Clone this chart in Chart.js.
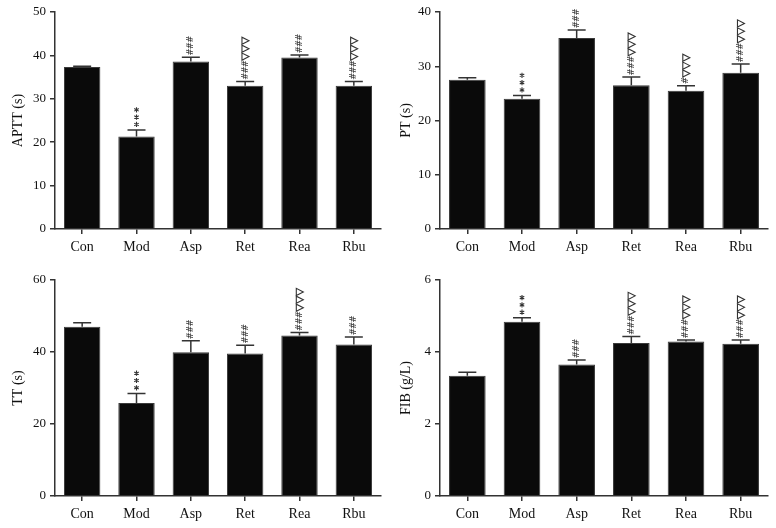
<!DOCTYPE html>
<html>
<head>
<meta charset="utf-8">
<script src="https://cdn.jsdelivr.net/npm/chart.js@4.4.0/dist/chart.umd.min.js"></script>
<style>
  body { margin: 0; background: #fff; }
  #wrap { position: relative; width: 776px; height: 528px; }
  .panel { position: absolute; width: 388px; height: 264px; }
</style>
</head>
<body>
<div id="wrap">
  <div class="panel" style="left:0;top:0"><canvas id="aptt" width="388" height="264"></canvas></div>
  <div class="panel" style="left:388px;top:0"><canvas id="pt" width="388" height="264"></canvas></div>
  <div class="panel" style="left:0;top:264px"><canvas id="tt" width="388" height="264"></canvas></div>
  <div class="panel" style="left:388px;top:264px"><canvas id="fib" width="388" height="264"></canvas></div>
</div>
<script>
const groups = ["Con", "Mod", "Asp", "Ret", "Rea", "Rbu"];

const apttMean = [37.3, 21.3, 38.6, 33.0, 39.5, 33.0];
const apttSem = [0.2, 1.5, 1.0, 1.0, 0.6, 1.0];
const apttMarks = ["", "***", "###", "###▷▷▷", "###", "###▷▷▷"];

const ptMean = [27.5, 24.0, 35.2, 26.5, 25.5, 28.8];
const ptSem = [0.4, 0.6, 1.5, 1.5, 0.9, 1.6];
const ptMarks = ["", "***", "###", "###▷▷▷", "#▷▷▷", "###▷▷▷"];

const ttMean = [47.0, 25.8, 39.9, 39.6, 44.6, 42.1];
const ttSem = [1.1, 2.7, 3.2, 2.3, 0.8, 2.1];
const ttMarks = ["", "***", "###", "###", "###▷▷▷", "###"];

const fibMean = [3.34, 4.84, 3.65, 4.25, 4.29, 4.23];
const fibSem = [0.10, 0.11, 0.13, 0.18, 0.04, 0.10];
const fibMarks = ["", "***", "###", "###▷▷▷", "###▷▷▷", "###▷▷▷"];

const serif = '"Liberation Serif", "Times New Roman", serif';
const ink = "#333";

// small star drawn as six spokes
function drawStar(ctx, x, y) {
    ctx.beginPath();
    for (let k = 0; k < 3; k++) {
        const a = Math.PI / 2 + k * Math.PI / 3;
        ctx.moveTo(x + Math.cos(a) * 2.6, y + Math.sin(a) * 2.6);
        ctx.lineTo(x - Math.cos(a) * 2.6, y - Math.sin(a) * 2.6);
    }
    ctx.stroke();
}

// error bars + significance marks stacked above each bar
const extrasPlugin = {
    id: "extras",
    afterDatasetsDraw(chart, args, opts) {
        const ctx = chart.ctx;
        const meta = chart.getDatasetMeta(0);
        const yScale = chart.scales.y;
        const values = chart.data.datasets[0].data;
        ctx.save();
        meta.data.forEach((bar, i) => {
            const x = bar.x;
            const top = yScale.getPixelForValue(values[i] + opts.sem[i]);
            ctx.strokeStyle = ink;
            ctx.lineWidth = 1.5;
            ctx.beginPath();
            ctx.moveTo(x, bar.y);
            ctx.lineTo(x, top);
            ctx.moveTo(x - 9, top);
            ctx.lineTo(x + 9, top);
            ctx.stroke();

            let y = top - 2;
            ctx.lineWidth = 1.1;
            for (const ch of opts.marks[i]) {
                if (ch === "*") {
                    drawStar(ctx, x, y - 3.6);
                    y -= 7.3;
                } else if (ch === "#") {
                    ctx.save();
                    ctx.translate(x, y - 3.2);
                    ctx.rotate(-Math.PI / 2);
                    ctx.fillStyle = ink;
                    ctx.font = '9px "DejaVu Sans"';
                    ctx.textAlign = "center";
                    ctx.textBaseline = "middle";
                    ctx.fillText("#", 0, 0);
                    ctx.restore();
                    y -= 6.3;
                } else if (ch === "▷") {
                    const h = 7.9;
                    ctx.beginPath();
                    ctx.moveTo(x - 3.2, y - 0.4);
                    ctx.lineTo(x + 3.8, y - h / 2);
                    ctx.lineTo(x - 3.2, y - h + 0.4);
                    ctx.closePath();
                    ctx.stroke();
                    y -= h;
                }
            }
        });
        ctx.restore();
    }
};

function makeChart(id, values, sem, marks, yMax, yStep, yTitle, area) {
    const ctx = document.getElementById(id).getContext("2d");
    return new Chart(ctx, {
        type: "bar",
        data: {
            labels: groups,
            datasets: [{
                data: values,
                backgroundColor: "#0a0a0a",
                borderColor: "#3a3a3a",
                borderWidth: 1,
                barPercentage: 0.67,
                categoryPercentage: 1.0
            }]
        },
        options: {
            responsive: false,
            animation: false,
            layout: { padding: { top: area.top, right: 388 - area.right, bottom: 0, left: 0 } },
            plugins: {
                legend: { display: false },
                tooltip: { enabled: false },
                extras: { sem: sem, marks: marks }
            },
            scales: {
                x: {
                    grid: { drawOnChartArea: false, drawTicks: true, tickLength: 5, color: ink, lineWidth: 1.5, offset: false },
                    border: { color: ink, width: 1.5 },
                    ticks: { color: "#111", padding: 5, font: { family: serif, size: 14 } },
                    afterFit: s => { s.height = 264 - area.bottom; }
                },
                y: {
                    min: 0,
                    max: yMax,
                    ticks: { stepSize: yStep, color: "#111", padding: 4, font: { family: serif, size: 13 } },
                    grid: { drawOnChartArea: false, drawTicks: true, tickLength: 5, color: ink, lineWidth: 1.5 },
                    border: { color: ink, width: 1.5 },
                    title: {
                        display: true,
                        text: yTitle,
                        color: "#111",
                        font: { family: serif, size: 14 },
                        padding: { top: 10, bottom: 0 }
                    },
                    afterFit: s => { s.width = area.left; }
                }
            }
        },
        plugins: [extrasPlugin]
    });
}

makeChart("aptt", apttMean, apttSem, apttMarks, 50, 10, "APTT (s)", { left: 55, top: 12, bottom: 229, right: 381 });
makeChart("pt", ptMean, ptSem, ptMarks, 40, 10, "PT (s)", { left: 52, top: 12, bottom: 229, right: 380 });
makeChart("tt", ttMean, ttSem, ttMarks, 60, 20, "TT (s)", { left: 55, top: 16, bottom: 232, right: 381 });
makeChart("fib", fibMean, fibSem, fibMarks, 6, 2, "FIB (g/L)", { left: 52, top: 16, bottom: 232, right: 380 });
</script>
</body>
</html>
